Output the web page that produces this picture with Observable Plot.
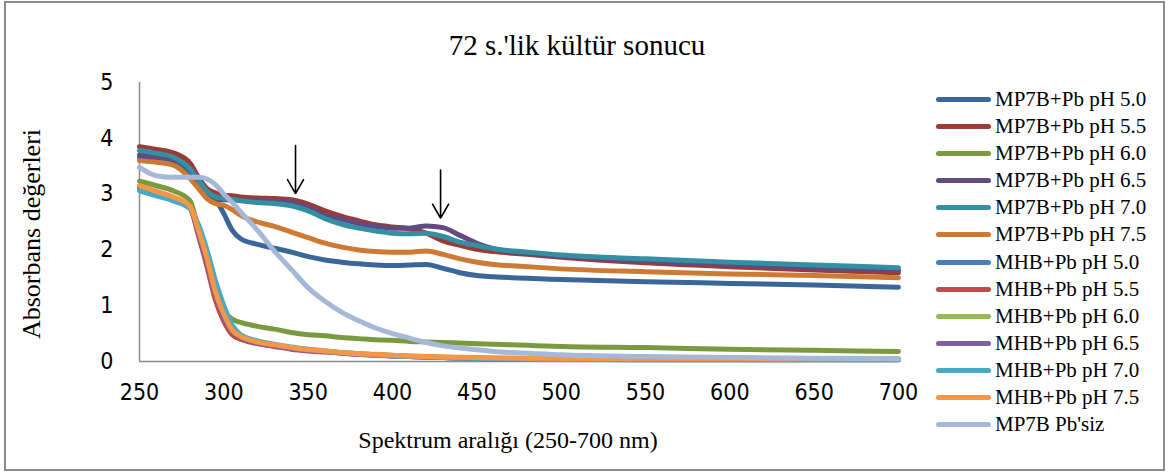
<!DOCTYPE html>
<html>
<head>
<meta charset="utf-8">
<script src="https://cdn.jsdelivr.net/npm/d3@7"></script>
<script src="https://cdn.jsdelivr.net/npm/@observablehq/plot@0.6"></script>
<style>
  html, body { margin: 0; padding: 0; background: #fff; }
  #chart { position: relative; width: 1168px; height: 472px; overflow: hidden; }
  #frame { position: absolute; left: 4px; top: 1px; width: 1157px; height: 466px; border: 2px solid #8c8c8c; }
  #plot { position: absolute; left: 0; top: 0; }
  .serif { font-family: "Liberation Serif", "Times New Roman", serif; color: #000; position: absolute; white-space: nowrap; }
  #title { left: 577px; top: 45px; font-size: 29px; transform: translate(-50%, -50%); }
  #xlabel { left: 508px; top: 440px; font-size: 24px; transform: translate(-50%, -50%); }
  #ylabel { left: 32px; top: 234px; font-size: 26px; transform: translate(-50%, -50%) rotate(-90deg); }
  #legend { position: absolute; left: 936px; top: 86px; }
  .item { position: relative; height: 27.1px; }
  .swatch { position: absolute; left: 0; top: 11px; width: 55px; height: 5px; border-radius: 3px; }
  .item span { position: absolute; left: 59px; top: 0; font-family: "Liberation Serif", "Times New Roman", serif; font-size: 21px; line-height: 27px; white-space: nowrap; }
</style>
</head>
<body>
<div id="chart">
  <div id="frame"></div>
  <div id="plot"></div>
  <div id="title" class="serif">72 s.'lik kültür sonucu</div>
  <div id="ylabel" class="serif">Absorbans değerleri</div>
  <div id="xlabel" class="serif">Spektrum aralığı (250-700 nm)</div>
  <div id="legend"></div>
</div>
<script>
// Wavelength grid (nm) shared by every spectrum
const wavelengths = [250, 260, 270, 280, 285, 290, 295, 300, 305, 310, 320, 330, 340, 350, 360, 370, 380, 390, 400, 410, 420, 430, 440, 450, 460, 480, 500, 550, 600, 650, 700];

// Absorbance spectra after 72 h of culture
const mp7b_50 = [3.65, 3.62, 3.57, 3.38, 3.18, 3.00, 2.90, 2.65, 2.35, 2.20, 2.10, 2.03, 1.96, 1.88, 1.82, 1.78, 1.75, 1.73, 1.72, 1.73, 1.74, 1.67, 1.59, 1.54, 1.52, 1.49, 1.47, 1.43, 1.40, 1.37, 1.33];
const mp7b_55 = [3.85, 3.80, 3.74, 3.55, 3.30, 3.10, 3.02, 2.98, 2.97, 2.95, 2.93, 2.92, 2.90, 2.82, 2.70, 2.60, 2.52, 2.45, 2.41, 2.38, 2.30, 2.16, 2.08, 2.01, 1.97, 1.92, 1.87, 1.77, 1.70, 1.64, 1.59];
const mp7b_60 = [3.23, 3.15, 3.06, 2.88, 2.35, 1.75, 1.25, 0.90, 0.76, 0.70, 0.63, 0.58, 0.52, 0.48, 0.46, 0.43, 0.41, 0.39, 0.38, 0.36, 0.35, 0.34, 0.33, 0.32, 0.31, 0.29, 0.27, 0.25, 0.22, 0.20, 0.18];
const mp7b_65 = [3.70, 3.66, 3.62, 3.45, 3.20, 2.98, 2.92, 2.90, 2.90, 2.89, 2.88, 2.87, 2.85, 2.76, 2.62, 2.55, 2.47, 2.42, 2.39, 2.39, 2.43, 2.40, 2.26, 2.12, 2.02, 1.94, 1.89, 1.80, 1.74, 1.68, 1.64];
const mp7b_70 = [3.78, 3.73, 3.66, 3.45, 3.25, 3.05, 2.95, 2.92, 2.91, 2.88, 2.85, 2.83, 2.79, 2.70, 2.56, 2.46, 2.39, 2.34, 2.30, 2.29, 2.30, 2.24, 2.14, 2.08, 2.02, 1.96, 1.91, 1.84, 1.78, 1.73, 1.68];
const mp7b_75 = [3.60, 3.57, 3.52, 3.28, 3.10, 2.92, 2.83, 2.80, 2.72, 2.62, 2.50, 2.42, 2.32, 2.22, 2.12, 2.05, 2.00, 1.97, 1.96, 1.96, 1.98, 1.92, 1.84, 1.78, 1.74, 1.70, 1.66, 1.61, 1.57, 1.54, 1.50];
const mhb_50 = [3.10, 3.01, 2.92, 2.76, 2.30, 1.80, 1.20, 0.80, 0.53, 0.43, 0.33, 0.28, 0.23, 0.20, 0.18, 0.15, 0.13, 0.12, 0.10, 0.09, 0.08, 0.07, 0.06, 0.06, 0.05, 0.05, 0.04, 0.04, 0.04, 0.04, 0.04];
const mhb_55 = [3.12, 3.03, 2.93, 2.75, 2.25, 1.70, 1.10, 0.72, 0.48, 0.40, 0.32, 0.27, 0.22, 0.19, 0.17, 0.15, 0.13, 0.11, 0.10, 0.09, 0.08, 0.07, 0.06, 0.05, 0.05, 0.04, 0.04, 0.03, 0.03, 0.03, 0.03];
const mhb_60 = [3.14, 3.04, 2.94, 2.77, 2.32, 1.82, 1.22, 0.82, 0.55, 0.44, 0.34, 0.29, 0.24, 0.21, 0.18, 0.16, 0.14, 0.12, 0.11, 0.10, 0.09, 0.08, 0.07, 0.06, 0.06, 0.05, 0.05, 0.04, 0.04, 0.04, 0.04];
const mhb_65 = [3.11, 3.02, 2.93, 2.76, 2.30, 1.78, 1.18, 0.80, 0.54, 0.43, 0.33, 0.28, 0.23, 0.20, 0.18, 0.15, 0.13, 0.12, 0.10, 0.09, 0.08, 0.07, 0.07, 0.06, 0.05, 0.05, 0.04, 0.04, 0.04, 0.04, 0.04];
const mhb_70 = [3.06, 2.97, 2.88, 2.74, 2.45, 2.00, 1.45, 1.00, 0.65, 0.48, 0.37, 0.31, 0.26, 0.22, 0.19, 0.16, 0.14, 0.12, 0.10, 0.09, 0.08, 0.07, 0.06, 0.055, 0.05, 0.04, 0.035, 0.03, 0.03, 0.03, 0.03];
const mhb_75 = [3.15, 3.05, 2.95, 2.78, 2.35, 1.85, 1.25, 0.85, 0.56, 0.45, 0.35, 0.30, 0.25, 0.21, 0.19, 0.16, 0.14, 0.13, 0.11, 0.10, 0.09, 0.08, 0.075, 0.07, 0.065, 0.06, 0.055, 0.05, 0.05, 0.05, 0.05];
const mp7b_free = [3.48, 3.33, 3.30, 3.30, 3.30, 3.27, 3.17, 3.00, 2.85, 2.68, 2.35, 1.98, 1.65, 1.32, 1.08, 0.88, 0.73, 0.60, 0.50, 0.42, 0.34, 0.28, 0.24, 0.21, 0.18, 0.15, 0.12, 0.09, 0.07, 0.06, 0.05];

const seriesNames = ["MP7B+Pb pH 5.0", "MP7B+Pb pH 5.5", "MP7B+Pb pH 6.0", "MP7B+Pb pH 6.5", "MP7B+Pb pH 7.0", "MP7B+Pb pH 7.5",
  "MHB+Pb pH 5.0", "MHB+Pb pH 5.5", "MHB+Pb pH 6.0", "MHB+Pb pH 6.5", "MHB+Pb pH 7.0", "MHB+Pb pH 7.5", "MP7B Pb'siz"];
const seriesValues = [mp7b_50, mp7b_55, mp7b_60, mp7b_65, mp7b_70, mp7b_75, mhb_50, mhb_55, mhb_60, mhb_65, mhb_70, mhb_75, mp7b_free];
const seriesColors = ["#3b6699", "#9a3b38", "#7b9a3f", "#604a7f", "#348fa3", "#cd7a35",
  "#4a7ebb", "#be4b48", "#98b954", "#7d60a0", "#46aac5", "#f79646", "#a5b8d7"];

const xTicks = [250, 300, 350, 400, 450, 500, 550, 600, 650, 700];
const yTicks = [0, 1, 2, 3, 4, 5];

// Annotation arrows marking the two shoulders
const arrowWavelengths = [342.5, 428.5];
const arrowTop = [3.87, 3.43];
const arrowTip = [3.01, 2.57];

// Long-format table, series in legend order so later ones draw on top
const rows = seriesNames.flatMap((name, i) =>
  wavelengths.map((wl, j) => ({series: name, wl, A: seriesValues[i][j]})));
const arrows = arrowWavelengths.map((x, i) => ({x, y1: arrowTop[i], y2: arrowTip[i]}));

const tickFont = "'Liberation Sans Narrow', 'DejaVu Sans Condensed', 'Liberation Sans', sans-serif";

const chart = Plot.plot({
  width: 930,
  height: 465,
  marginTop: 82,
  marginBottom: 104,
  marginLeft: 139,
  marginRight: 32,
  style: {background: "transparent", color: "#000"},
  x: {domain: [250, 700]},
  y: {domain: [0, 5]},
  color: {domain: seriesNames, range: seriesColors},
  marks: [
    Plot.axisX({ticks: xTicks, tickFormat: d => String(d), tickSize: 0, tickPadding: 22, fontSize: 23, fontFamily: tickFont, label: null}),
    Plot.axisY({ticks: yTicks, tickFormat: d => String(d), tickSize: 0, tickPadding: 26, fontSize: 23, fontFamily: tickFont, label: null}),
    Plot.ruleX([250], {stroke: "#8c8c8c", strokeWidth: 1.5}),
    Plot.ruleY([0], {stroke: "#8c8c8c", strokeWidth: 1.5}),
    Plot.line(rows, {x: "wl", y: "A", z: "series", stroke: "series", strokeWidth: 5, curve: "monotone-x", strokeLinecap: "round", strokeLinejoin: "round"}),
    Plot.arrow(arrows, {x: "x", y1: "y1", y2: "y2", stroke: "#000", strokeWidth: 1.6, headLength: 20, headAngle: 60})
  ]
});
document.getElementById("plot").appendChild(chart);

// Legend column at the right
const legend = document.getElementById("legend");
seriesNames.forEach((name, i) => {
  const item = document.createElement("div");
  item.className = "item";
  const sw = document.createElement("div");
  sw.className = "swatch";
  sw.style.background = seriesColors[i];
  const label = document.createElement("span");
  label.textContent = name;
  item.appendChild(sw);
  item.appendChild(label);
  legend.appendChild(item);
});
</script>
</body>
</html>
